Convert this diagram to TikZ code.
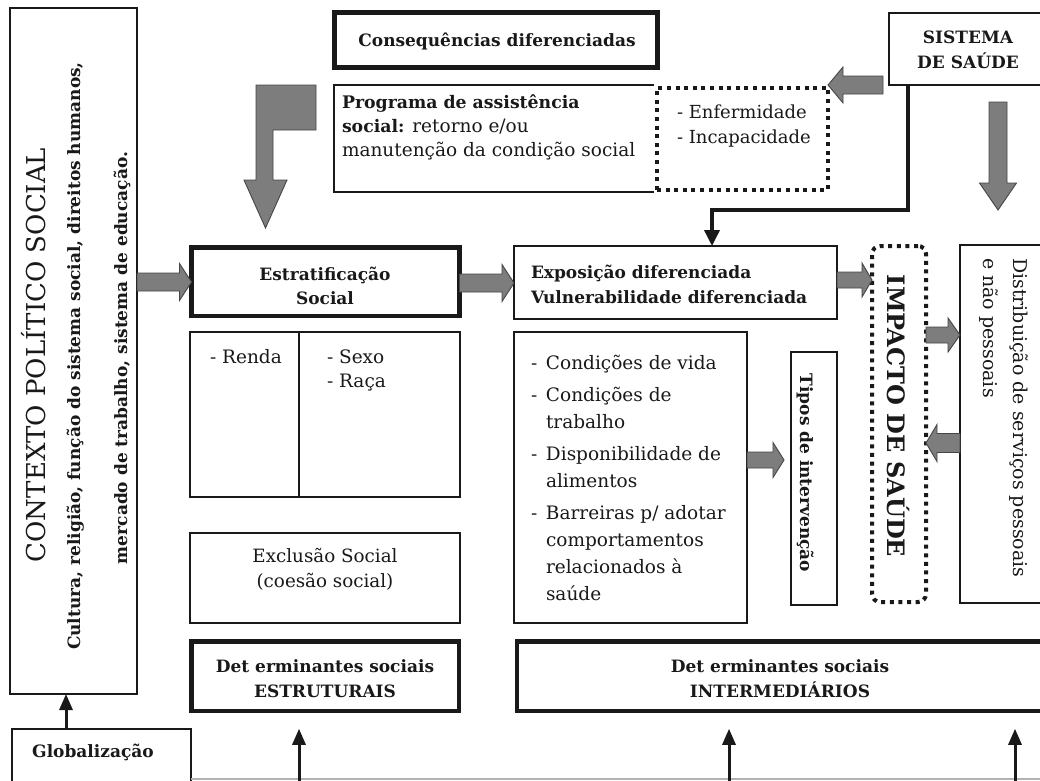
\documentclass[tikz,border=0pt]{standalone}
\usepackage{fontspec}
\setmainfont{DejaVu Serif}
\usetikzlibrary{calc,arrows.meta}
\definecolor{agray}{RGB}{125,125,125}
\definecolor{aedge}{RGB}{70,70,70}
\definecolor{ink}{RGB}{25,25,25}
\newcommand\fb{\fontsize{17}{25}\selectfont\bfseries}
\newcommand\fr{\fontsize{18.5}{27}\selectfont}
\newcommand\dsh{\makebox[15pt][l]{-}}
\newcommand\ind{\hspace*{15pt}}
\begin{document}
\begin{tikzpicture}[x=1pt,y=-1pt,
  box/.style={draw=ink, line width=1.3pt, inner sep=0pt, outer sep=0pt},
  tbox/.style={draw=ink, line width=4.5pt, inner sep=0pt, outer sep=0pt},
  dbox/.style={draw=ink, line width=4pt, dash pattern=on 4pt off 4.6pt, inner sep=0pt, outer sep=0pt},
  txt/.style={inner sep=0pt, outer sep=0pt, text=ink},
  fat/.style={fill=agray, draw=aedge, line width=0.9pt},
  fatH/.style n args={3}{to path={let \p1=(\tikztostart), \p2=(\tikztotarget), \p3=($(\p2)!#3!(\p1)$) in (\x1,\y1+#1) -- (\x3,\y1+#1) -- (\x3,\y1+#2) -- (\x2,\y1) -- (\x3,\y1-#2) -- (\x3,\y1-#1) -- (\x1,\y1-#1) -- cycle}},
  fatV/.style n args={3}{to path={let \p1=(\tikztostart), \p2=(\tikztotarget), \p3=($(\p2)!#3!(\p1)$) in (\x1+#1,\y1) -- (\x1+#1,\y3) -- (\x1+#2,\y3) -- (\x1,\y2) -- (\x1-#2,\y3) -- (\x1-#1,\y3) -- (\x1-#1,\y1) -- cycle}},
  blk/.style={draw=ink, line width=3pt, -{Triangle[length=16pt,width=13pt]}},
]
\useasboundingbox (0,0) rectangle (1040,780);
\fill[white] (0,0) rectangle (1040,780);
\clip (0,0) rectangle (1040,780);

% ---------- boxes ----------
\node[box, minimum width=127pt, minimum height=686pt] (ctx) at (73.5,351) {};
\node[box, minimum width=179pt, minimum height=71pt] (glob) at (101.5,764.5) {};
\node[tbox, minimum width=323pt, minimum height=55pt] (cons) at (496,40) {};
\node[inner sep=0pt, outer sep=0pt, minimum width=320pt, minimum height=107pt] (prog) at (494,138.5) {};
\draw[ink, line width=1.3pt] (prog.north east) -- (prog.north west) -- (prog.south west) -- (prog.south east);
\node[dbox, minimum width=171pt, minimum height=102pt] (enf) at (742.5,139) {};
\node[box, minimum width=156pt, minimum height=72pt] (sis) at (967,49) {};
\node[tbox, minimum width=268pt, minimum height=68.5pt] (estr) at (325.5,281.5) {};
\node[box, minimum width=270pt, minimum height=165pt] (rr) at (325,414.5) {};
\draw[ink, line width=1.3pt] (rr.north -| 299,0) -- (rr.south -| 299,0);
\node[box, minimum width=270pt, minimum height=90pt] (excl) at (325,578) {};
\node[tbox, minimum width=267.5pt, minimum height=69.5pt] (dest) at (325,676) {};
\node[box, minimum width=323pt, minimum height=73pt] (expo) at (675.5,282.5) {};
\node[box, minimum width=233pt, minimum height=291pt] (cond) at (630.5,477.5) {};
\node[box, minimum width=46pt, minimum height=253pt] (tipos) at (814,478.5) {};
\node[dbox, rounded corners=8pt, minimum width=54pt, minimum height=356pt] (imp) at (899,424) {};
\node[box, minimum width=85pt, minimum height=358pt] (dist) at (1002.5,424) {};
\node[tbox, minimum width=530pt, minimum height=69.5pt] (dint) at (782,676) {};

% ---------- texts ----------
\node[txt, rotate=90, anchor=base, font=\fontsize{26}{30}\selectfont] (ctxa) at (45.5,355) {CONTEXTO POLÍTICO SOCIAL};
\node[txt, rotate=90, anchor=base, font=\fb] (ctxb) at (80,356) {Cultura, religião, função do sistema social, direitos humanos,};
\node[txt, rotate=90, anchor=base, font=\fb] (ctxc) at (127,358) {mercado de trabalho, sistema de educação.};
\node[txt, anchor=base, font=\fb] (globt) at (93,757.5) {Globalização};
\node[txt, anchor=base, font=\fb] (const) at (497,46.5) {Consequências diferenciadas};
\node[txt, anchor=north west, align=left, font=\fontsize{18.5}{24}\selectfont] (progt) at (342,94.5)
  {{\fontsize{17.3}{24}\selectfont\bfseries Programa de assistência}\\
   {\fontsize{17.3}{24}\selectfont\bfseries social:} retorno e/ou\\
   manutenção da condição social};
\node[txt, anchor=north west, align=left, font=\fontsize{18}{25}\selectfont] (enft) at (677,105.3) {- Enfermidade\\- Incapacidade};
\node[txt, align=center, font=\fb] (sist) at (968,49.5) {SISTEMA\\DE SAÚDE};
\node[txt, align=center, font=\fontsize{17}{24}\selectfont\bfseries] (estrt) at (325,285.5) {Estratificação\\Social};
\node[txt, anchor=base west, font=\fr] (rendat) at (210,363) {- Renda};
\node[txt, anchor=north west, align=left, font=\fontsize{18.5}{24}\selectfont] (sexot) at (327,349.5) {- Sexo\\- Raça};
\node[txt, align=center, font=\fontsize{18.3}{25}\selectfont] (exclt) at (325,569.7) {Exclusão Social\\(coesão social)};
\node[txt, align=center, font=\fb] (destt) at (325,679) {Det erminantes sociais\\ESTRUTURAIS};
\node[txt, align=center, font=\fb] (dintt) at (780,679) {Det erminantes sociais\\INTERMEDIÁRIOS};
\node[txt, anchor=north west, align=left, font=\fb] (expot) at (531,265) {Exposição diferenciada\\Vulnerabilidade diferenciada};
\node[txt, anchor=north west, align=left, font=\fr] (condt) at (531,355.6)
  {\dsh Condições de vida\\[5pt]
   \dsh Condições de\\
   \ind trabalho\\[5pt]
   \dsh Disponibilidade de\\
   \ind alimentos\\[5pt]
   \dsh Barreiras p/ adotar\\
   \ind comportamentos\\
   \ind relacionados à\\
   \ind saúde};
\node[txt, rotate=-90, anchor=base, font=\fb] (tipost) at (800,473) {Tipos de intervenção};
\node[txt, rotate=-90, anchor=base, font=\fontsize{24}{30}\selectfont\bfseries] (impt) at (887,416) {IMPACTO DE SAÚDE};
\node[txt, rotate=-90, anchor=north west, align=left, font=\fontsize{19}{30}\selectfont] (distt) at (1028.5,258) {Distribuição de serviços pessoais\\e não pessoais};

% ---------- block arrows ----------
\draw[fat, fatH={9pt}{18.5pt}{12pt}] (ctx.east |- 0,282) to (estr.west |- 0,282);
\draw[fat, fatH={9pt}{18.5pt}{12pt}] (estr.east |- 0,283) to (expo.west |- 0,283);
\draw[fat, fatH={8pt}{17pt}{10pt}] (expo.east |- 0,280) to (imp.west |- 0,280);
\draw[fat, fatH={8pt}{17pt}{12pt}] (imp.east |- 0,335) to (dist.west |- 0,335);
\draw[fat, fatH={9.5pt}{18.5pt}{11pt}] (dist.west |- 0,443) to (imp.east |- 0,443);
\draw[fat, fatH={8pt}{17.5pt}{11pt}] (cond.east |- 0,460) to ($(tipos.west |- 0,460)+(-7,0)$);
\draw[fat, fatH={9pt}{18pt}{15pt}] ($(sis.west |- 0,85)+(-6,0)$) to (enf.east |- 0,85);
\coordinate (sdn) at (998,210);
\draw[fat, fatV={9pt}{18.5pt}{27pt}] ($(sis.south -| 998,0)+(0,17)$) to (sdn);
\draw[fat] (256,85) -- (316,85) -- (316,130) -- (273,130) -- (273,180) -- (287,180) -- (265.5,228) -- (244,180) -- (256,180) -- cycle;

% ---------- black arrows ----------
\draw[blk] (glob.north -| 66,0) -- (ctx.south -| 66,0);
\draw[draw=ink, line width=3.5pt, line join=miter, -{Triangle[length=16pt,width=15pt]}] (sis.south -| 908,0) -- (908,210) -| (expo.north -| 712,0);
\draw[draw=black!30, line width=1.2pt] (glob.east |- 0,779) -- (1040,779);
\coordinate (u1) at (299,781);
\coordinate (u1t) at ($(dest.south -| 299,0)+(0,18)$);
\coordinate (u2) at (729,781);
\coordinate (u2t) at ($(dint.south -| 729,0)+(0,18)$);
\coordinate (u3) at (1015,781);
\coordinate (u3t) at ($(dint.south -| 1015,0)+(0,18)$);
\draw[blk] (u1) -- (u1t);
\draw[blk] (u2) -- (u2t);
\draw[blk] (u3) -- (u3t);
\end{tikzpicture}
\end{document}
